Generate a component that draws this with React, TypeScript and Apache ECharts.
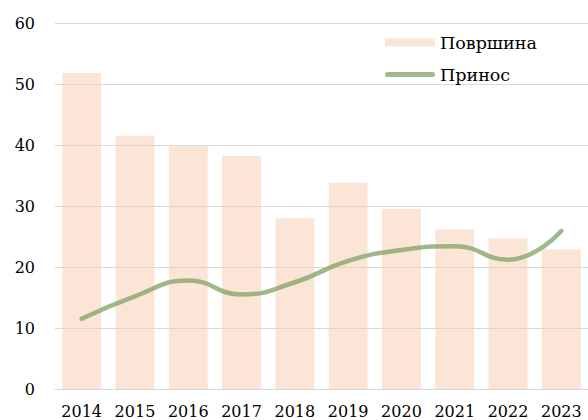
import React, { useEffect, useRef } from "react";
import * as echarts from "echarts";

const categories = ["2014", "2015", "2016", "2017", "2018", "2019", "2020", "2021", "2022", "2023"];
const areaValues = [51.8, 41.5, 39.8, 38.2, 28.0, 33.8, 29.5, 26.2, 24.7, 22.9];
const yieldValues = [11.5, 15.2, 17.8, 15.5, 17.5, 21.0, 22.8, 23.4, 21.2, 25.9];
const seriesNames = ["Површина", "Принос"];

const FONT = "DejaVu Serif";
const BAR_COLOR = "rgba(248,203,173,0.5)";
const LINE_COLOR = "rgba(130,160,100,0.75)";
const LINE_ICON = "path://M2.5,0 H47.5 A2.5,2.5 0 0 1 47.5,5 H2.5 A2.5,2.5 0 0 1 2.5,0 Z";

export default function App() {
  const ref = useRef<HTMLDivElement>(null);
  useEffect(() => {
    if (!ref.current) return;
    const chart = echarts.init(ref.current, undefined, { renderer: "svg" });
    chart.setOption({
      animation: false,
      backgroundColor: "#ffffff",
      textStyle: { fontFamily: FONT },
      grid: { left: 55, right: -4, top: 23, bottom: 31, containLabel: false },
      legend: {
        orient: "vertical",
        left: 380,
        top: 28.5,
        itemWidth: 50,
        itemHeight: 8,
        itemGap: 14,
        textStyle: { fontFamily: FONT, fontSize: 17.5, color: "#000" },
        data: [
          { name: seriesNames[0], icon: "rect", itemStyle: { color: BAR_COLOR } },
          { name: seriesNames[1], icon: LINE_ICON, itemStyle: { color: LINE_COLOR, borderWidth: 0 } },
        ],
      },
      xAxis: {
        type: "category",
        data: categories,
        axisLine: { show: true, lineStyle: { color: "#d9d9d9", width: 1 } },
        axisTick: { show: false },
        axisLabel: { fontFamily: FONT, fontSize: 16, color: "#000", margin: 14 },
      },
      yAxis: {
        type: "value",
        min: 0,
        max: 60,
        interval: 10,
        axisLine: { show: false },
        axisTick: { show: false },
        splitLine: { lineStyle: { color: "#d9d9d9", width: 1 } },
        axisLabel: { fontFamily: FONT, fontSize: 16, color: "#000", margin: 20 },
      },
      series: [
        {
          name: seriesNames[0],
          type: "bar",
          data: areaValues,
          barCategoryGap: "27%",
          itemStyle: { color: BAR_COLOR },
        },
        {
          name: seriesNames[1],
          type: "line",
          data: yieldValues,
          smooth: 0.5,
          symbol: "none",
          lineStyle: { color: LINE_COLOR, width: 4.5, cap: "round" },
          itemStyle: { color: LINE_COLOR },
        },
      ],
    });
    return () => chart.dispose();
  }, []);
  return <div ref={ref} style={{ width: 588, height: 420, position: "fixed", left: 0, top: 0 }} />;
}
